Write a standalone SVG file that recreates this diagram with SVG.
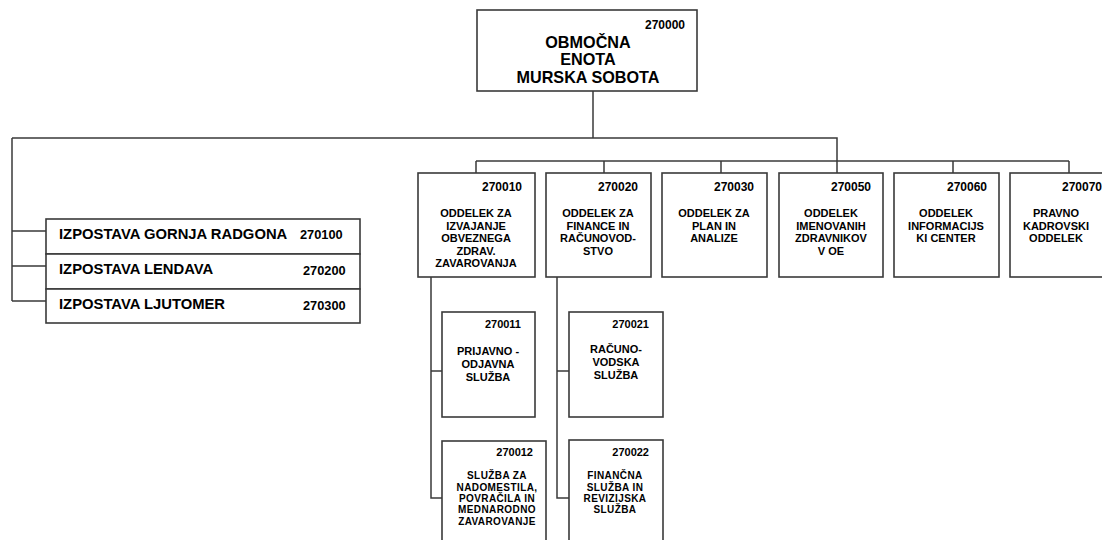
<svg xmlns="http://www.w3.org/2000/svg" width="1102" height="540" viewBox="0 0 1102 540">
<style>
.box{fill:#fff;stroke:#3a3a3a;stroke-width:1.6}
.ln{fill:none;stroke:#3a3a3a;stroke-width:1.5}
text{font-family:"Liberation Sans",Arial,sans-serif;font-weight:bold;fill:#000}
.num{text-anchor:end;font-size:12px}
.nums{text-anchor:end;font-size:11px}
.nm{text-anchor:middle;font-size:11px}
.nms{text-anchor:middle;font-size:10px;letter-spacing:0.4px}
.big{text-anchor:middle;font-size:16.2px}
.izp{font-size:14.8px}
.izn{font-size:12.8px}
</style>
<rect width="1102" height="540" fill="#fff"/>
<g id="connectors">
<path class="ln" d="M593 91V138"/>
<path class="ln" d="M12 138H837V173"/>
<path class="ln" d="M12 138V301"/>
<path class="ln" d="M12 231H46M12 266H46M12 301H46"/>
<path class="ln" d="M476 161H1069"/>
<path class="ln" d="M476 161V173M604 161V173M721 161V173M953 161V173M1069 161V173"/>
<path class="ln" d="M431 277V498H442M431 371H442"/>
<path class="ln" d="M557 277V498H569M557 371H569"/>
</g>
<g id="n270000">
<rect class="box" x="477" y="10" width="220" height="81"/>
<text class="num" x="685" y="29">270000</text>
<text class="big" x="588" y="48">OBMOČNA</text>
<text class="big" x="588" y="65">ENOTA</text>
<text class="big" x="588" y="83">MURSKA SOBOTA</text>
</g>
<g id="n270100">
<rect class="box" x="46" y="219" width="314" height="35"/>
<text class="izp" x="59" y="239">IZPOSTAVA GORNJA RADGONA</text>
<text class="izn" x="300" y="239">270100</text>
</g>
<g id="n270200">
<rect class="box" x="46" y="254" width="314" height="35"/>
<text class="izp" x="59" y="274">IZPOSTAVA LENDAVA</text>
<text class="izn" x="303" y="275">270200</text>
</g>
<g id="n270300">
<rect class="box" x="46" y="289" width="314" height="34"/>
<text class="izp" x="59" y="309">IZPOSTAVA LJUTOMER</text>
<text class="izn" x="303" y="310">270300</text>
</g>
<g id="n270010">
<rect class="box" x="418" y="173" width="117" height="104"/>
<text class="num" x="522" y="191">270010</text>
<text class="nm" x="476" y="217">ODDELEK ZA</text>
<text class="nm" x="476" y="229.5">IZVAJANJE</text>
<text class="nm" x="476" y="242">OBVEZNEGA</text>
<text class="nm" x="476" y="254.5">ZDRAV.</text>
<text class="nm" x="476" y="267">ZAVAROVANJA</text>
</g>
<g id="n270020">
<rect class="box" x="546" y="173" width="105" height="104"/>
<text class="num" x="638" y="191">270020</text>
<text class="nm" x="598" y="217">ODDELEK ZA</text>
<text class="nm" x="598" y="229.5">FINANCE IN</text>
<text class="nm" x="598" y="242">RAČUNOVOD-</text>
<text class="nm" x="598" y="254.5">STVO</text>
</g>
<g id="n270030">
<rect class="box" x="662" y="173" width="105" height="104"/>
<text class="num" x="754" y="191">270030</text>
<text class="nm" x="714" y="217">ODDELEK ZA</text>
<text class="nm" x="714" y="229.5">PLAN IN</text>
<text class="nm" x="714" y="242">ANALIZE</text>
</g>
<g id="n270050">
<rect class="box" x="779" y="173" width="104" height="104"/>
<text class="num" x="871" y="191">270050</text>
<text class="nm" x="831" y="217">ODDELEK</text>
<text class="nm" x="831" y="229.5">IMENOVANIH</text>
<text class="nm" x="831" y="242">ZDRAVNIKOV</text>
<text class="nm" x="831" y="254.5">V OE</text>
</g>
<g id="n270060">
<rect class="box" x="894" y="173" width="105" height="104"/>
<text class="num" x="987" y="191">270060</text>
<text class="nm" x="946" y="217">ODDELEK</text>
<text class="nm" x="946" y="229.5">INFORMACIJS</text>
<text class="nm" x="946" y="242">KI CENTER</text>
</g>
<g id="n270070">
<rect class="box" x="1010" y="173" width="105" height="104"/>
<text class="num" x="1102" y="191">270070</text>
<text class="nm" x="1056" y="217">PRAVNO</text>
<text class="nm" x="1056" y="229.5">KADROVSKI</text>
<text class="nm" x="1056" y="242">ODDELEK</text>
</g>
<g id="n270011">
<rect class="box" x="442" y="312" width="93" height="105"/>
<text class="nums" x="521" y="328">270011</text>
<text class="nm" x="488" y="355">PRIJAVNO -</text>
<text class="nm" x="488" y="368">ODJAVNA</text>
<text class="nm" x="488" y="381">SLUŽBA</text>
</g>
<g id="n270021">
<rect class="box" x="569" y="312" width="94" height="105"/>
<text class="nums" x="649" y="328">270021</text>
<text class="nm" x="616" y="353">RAČUNO-</text>
<text class="nm" x="616" y="366">VODSKA</text>
<text class="nm" x="616" y="379">SLUŽBA</text>
</g>
<g id="n270012">
<rect class="box" x="442" y="441" width="104" height="110"/>
<text class="nums" x="533" y="456">270012</text>
<text class="nms" x="497" y="479">SLUŽBA ZA</text>
<text class="nms" x="497" y="490.5">NADOMESTILA,</text>
<text class="nms" x="497" y="502">POVRAČILA IN</text>
<text class="nms" x="497" y="513">MEDNARODNO</text>
<text class="nms" x="497" y="524.5">ZAVAROVANJE</text>
</g>
<g id="n270022">
<rect class="box" x="569" y="440" width="94" height="110"/>
<text class="nums" x="649" y="456">270022</text>
<text class="nms" x="615" y="479">FINANČNA</text>
<text class="nms" x="615" y="490.5">SLUŽBA IN</text>
<text class="nms" x="615" y="502">REVIZIJSKA</text>
<text class="nms" x="615" y="513">SLUŽBA</text>
</g>
</svg>
